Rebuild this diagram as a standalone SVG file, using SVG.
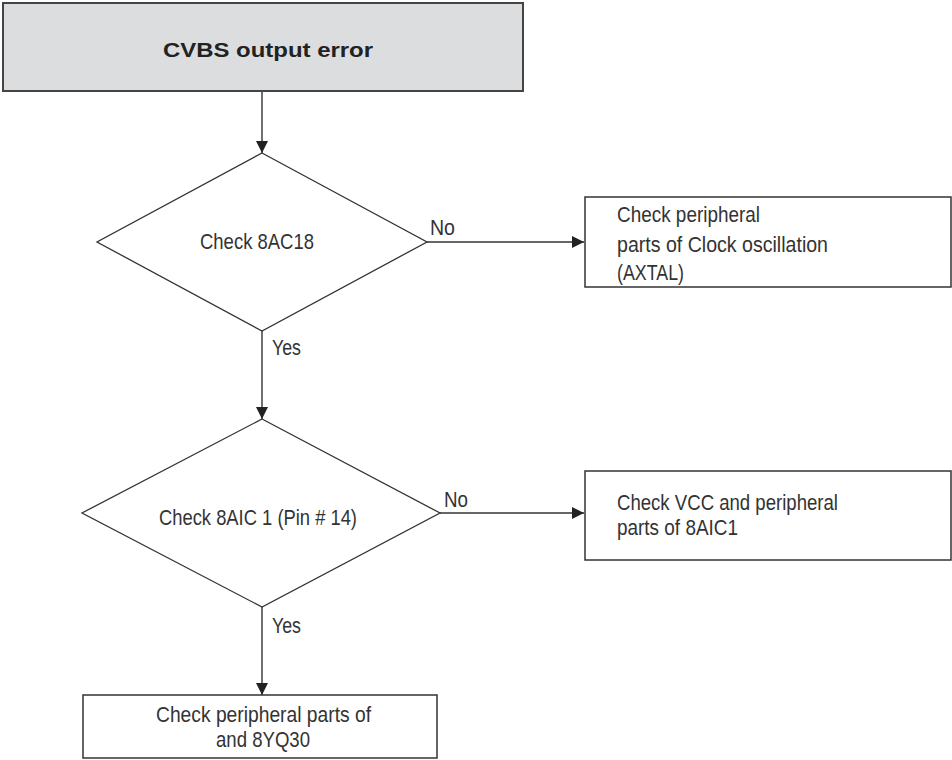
<svg xmlns="http://www.w3.org/2000/svg" width="952" height="760" viewBox="0 0 952 760">
<style>
.box{fill:#ffffff;stroke:#333333;stroke-width:1.5}
.start{fill:#dcdddf;stroke:#444444;stroke-width:2}
.dia{fill:#ffffff;stroke:#333333;stroke-width:1.3}
.t{font-family:"Liberation Sans",Arial,sans-serif;font-size:22px;fill:#333333}
.b{font-family:"Liberation Sans",Arial,sans-serif;font-size:21px;font-weight:bold;fill:#222222}
.c{stroke:#333333;stroke-width:1.4;fill:none}
</style>
<defs>
<marker id="arr" viewBox="0 0 12 14" refX="12" refY="7" markerWidth="12" markerHeight="14" markerUnits="userSpaceOnUse" orient="auto">
<path d="M0,1 L12,7 L0,13 Z" fill="#222222"/>
</marker>
</defs>
<rect width="952" height="760" fill="#ffffff"/>
<g id="connectors">
<line class="c" x1="262" y1="92" x2="262" y2="153" marker-end="url(#arr)"/>
<line class="c" x1="427" y1="242" x2="584" y2="242" marker-end="url(#arr)"/>
<line class="c" x1="262" y1="331" x2="262" y2="419" marker-end="url(#arr)"/>
<line class="c" x1="440" y1="513" x2="584" y2="513" marker-end="url(#arr)"/>
<line class="c" x1="262" y1="607" x2="262" y2="695" marker-end="url(#arr)"/>
<text class="t" x="430" y="235" textLength="25" lengthAdjust="spacingAndGlyphs">No</text>
<text class="t" x="272" y="355" textLength="29" lengthAdjust="spacingAndGlyphs">Yes</text>
<text class="t" x="444" y="507" textLength="24" lengthAdjust="spacingAndGlyphs">No</text>
<text class="t" x="272" y="633" textLength="29" lengthAdjust="spacingAndGlyphs">Yes</text>
</g>
<g id="start">
<rect class="start" x="3" y="3" width="520" height="88"/>
<text class="b" x="163" y="57" textLength="210" lengthAdjust="spacingAndGlyphs">CVBS output error</text>
</g>
<g id="check1">
<polygon class="dia" points="262,153 427,242 262,331 97,242"/>
<text class="t" x="200" y="249" textLength="114" lengthAdjust="spacingAndGlyphs">Check 8AC18</text>
</g>
<g id="clock">
<rect class="box" x="585" y="197" width="366" height="90"/>
<text class="t" x="617" y="222" textLength="143" lengthAdjust="spacingAndGlyphs">Check peripheral</text>
<text class="t" x="617" y="252" textLength="211" lengthAdjust="spacingAndGlyphs">parts of Clock oscillation</text>
<text class="t" x="617" y="280" textLength="67" lengthAdjust="spacingAndGlyphs">(AXTAL)</text>
</g>
<g id="check2">
<polygon class="dia" points="262,419 440,513 262,607 82,513"/>
<text class="t" x="159" y="525" textLength="198" lengthAdjust="spacingAndGlyphs">Check 8AIC 1 (Pin # 14)</text>
</g>
<g id="vcc">
<rect class="box" x="585" y="471" width="366" height="89"/>
<text class="t" x="617" y="510" textLength="221" lengthAdjust="spacingAndGlyphs">Check VCC and peripheral</text>
<text class="t" x="617" y="535" textLength="121" lengthAdjust="spacingAndGlyphs">parts of 8AIC1</text>
</g>
<g id="yq30">
<rect class="box" x="83" y="695" width="354" height="63"/>
<text class="t" x="156" y="722" textLength="215" lengthAdjust="spacingAndGlyphs">Check peripheral parts of</text>
<text class="t" x="216" y="747" textLength="94" lengthAdjust="spacingAndGlyphs">and 8YQ30</text>
</g>
</svg>
